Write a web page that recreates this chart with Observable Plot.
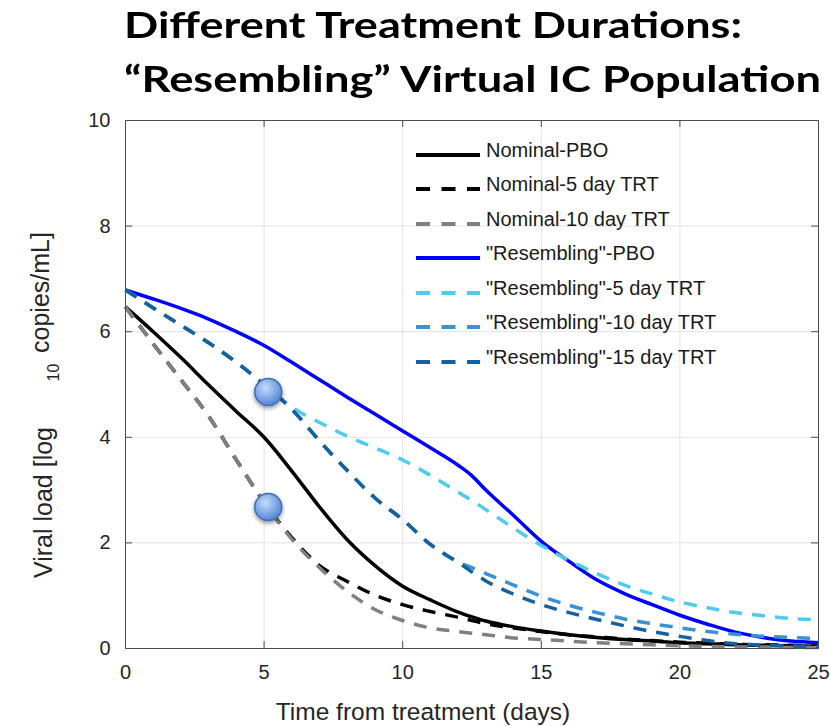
<!DOCTYPE html>
<html><head><meta charset="utf-8">
<script src="https://cdn.jsdelivr.net/npm/d3@7"></script>
<script src="https://cdn.jsdelivr.net/npm/@observablehq/plot@0.6"></script>
<style>
html,body{margin:0;padding:0;background:#fff;}
#wrap{position:relative;width:831px;height:726px;overflow:hidden;font-family:"Liberation Sans",Arial,sans-serif;}
.title{position:absolute;left:124px;font-family:Lato,"Open Sans",sans-serif;font-weight:700;font-size:37px;line-height:1;white-space:nowrap;color:#000;transform-origin:0 50%;}
#chart{position:absolute;left:0;top:105px;}
.legline{position:absolute;left:416px;width:64px;height:10px;}
.legtext{position:absolute;left:486px;font-size:20px;line-height:20px;white-space:nowrap;color:#1a1a1a;}
</style></head>
<body><div id="wrap">
<div class="title" id="t1">Different Treatment Durations:</div>
<div class="title" id="t2">“Resembling” Virtual IC Population</div>
<div id="chart"></div>
<div id="legend"></div>
</div>
<script>
// ---------- data ----------
const days = [0,1,2,3,4,5,6,7,8,9,10,11,12,12.5,13,14,15,16,17,18,19,20,21,22,23,24,25];
const nominalPBO = [6.47,6.00,5.51,4.99,4.49,4.00,3.36,2.68,2.06,1.57,1.18,0.92,0.69,0.60,0.52,0.41,0.33,0.26,0.21,0.17,0.14,0.11,0.09,0.07,0.06,0.05,0.04];
const nominal5day = [6.47,5.77,5.09,4.40,3.57,2.77,2.10,1.57,1.27,1.01,0.83,0.70,0.59,0.53,0.47,0.39,0.32,0.26,0.22,0.18,0.15,0.12,0.10,0.08,0.07,0.06,0.05];
const nominal10day = [6.47,5.77,5.09,4.40,3.57,2.77,2.07,1.53,1.08,0.74,0.53,0.39,0.32,0.29,0.26,0.20,0.17,0.14,0.11,0.09,0.07,0.05,0.04,0.03,0.03,0.02,0.02];
const resemblingPBO = [6.79,6.62,6.44,6.24,6.00,5.74,5.42,5.09,4.76,4.44,4.12,3.80,3.47,3.27,3.00,2.52,2.03,1.65,1.30,1.04,0.83,0.63,0.46,0.31,0.21,0.14,0.11];
const resembling5day = [6.79,6.45,6.12,5.79,5.42,5.00,4.57,4.28,4.02,3.80,3.57,3.28,2.96,2.80,2.63,2.28,1.95,1.67,1.42,1.20,1.03,0.88,0.77,0.68,0.62,0.57,0.54];
const resembling10day = [6.79,6.45,6.12,5.79,5.42,5.00,4.53,3.93,3.37,2.85,2.44,1.97,1.64,1.53,1.42,1.20,0.99,0.82,0.68,0.56,0.47,0.39,0.32,0.27,0.23,0.21,0.19];
const resembling15day = [6.79,6.45,6.12,5.79,5.42,5.00,4.53,3.93,3.37,2.85,2.44,1.97,1.63,1.45,1.28,1.03,0.83,0.68,0.55,0.43,0.32,0.23,0.15,0.09,0.06,0.05,0.04];
const seriesNames = ["Nominal-PBO","Nominal-5 day TRT","Nominal-10 day TRT","\"Resembling\"-PBO","\"Resembling\"-5 day TRT","\"Resembling\"-10 day TRT","\"Resembling\"-15 day TRT"];
const seriesValues = [nominalPBO,nominal5day,nominal10day,resemblingPBO,resembling5day,resembling10day,resembling15day];
const markerDays = [5.15, 5.15];
const markerValues = [4.86, 2.68];
const xTicks = [0,5,10,15,20,25];
const yTicks = [0,2,4,6,8,10];
const xLabel = "Time from treatment (days)";
const yLabelParts = ["Viral load [log", "10", "copies/mL]"];

// ---------- styles ----------
const seriesColors = ["#000000","#000000","#808080","#0000ff","#4fcbee","#3a91d4","#17609f"];
const seriesDash = [null,"13,10","13,10",null,"13,10","13,10","13,10"];

// ---------- build ----------
const rows = seriesNames.flatMap((name, i) => days.map((d, j) => ({series: name, day: d, value: seriesValues[i][j]})));
const markers = markerDays.map((d, i) => ({day: d, value: markerValues[i]}));

const W = 831, H = 621, mT = 15, mR = 13, mB = 78, mL = 125;
const innerW = W - mL - mR, innerH = H - mT - mB;
const tickLen = 7;
const labelStyle = {fill: "#262626", lineAnchor: "middle", textAnchor: "middle"};

const svg = Plot.plot({
  width: W, height: H,
  marginTop: mT, marginRight: mR, marginBottom: mB, marginLeft: mL,
  x: {domain: [0, 25]},
  y: {domain: [0, 10]},
  style: {fontFamily: "'Liberation Sans', Arial, sans-serif", background: "white", color: "#262626"},
  marks: [
    Plot.gridX(xTicks, {stroke: "#e3e3e3", strokeOpacity: 1}),
    Plot.gridY(yTicks, {stroke: "#e3e3e3", strokeOpacity: 1}),
    Plot.axisX(xTicks, {tickSize: 0, tickPadding: 16, fontSize: 20, label: null, fill: "#262626", tickFormat: d => String(d)}),
    Plot.axisY(yTicks, {tickSize: 0, tickPadding: 15, fontSize: 20, label: null, fill: "#262626", tickFormat: d => String(d)}),
    Plot.tickX(xTicks, {x: d => d, insetTop: innerH - tickLen, stroke: "#4d4d4d"}),
    Plot.tickX(xTicks, {x: d => d, insetBottom: innerH - tickLen, stroke: "#4d4d4d"}),
    Plot.tickY(yTicks, {y: d => d, insetRight: innerW - tickLen, stroke: "#4d4d4d"}),
    Plot.tickY(yTicks, {y: d => d, insetLeft: innerW - tickLen, stroke: "#4d4d4d"}),
    ...seriesNames.map((name, i) => Plot.line(rows.filter(r => r.series === name), {
      x: "day", y: "value", stroke: seriesColors[i], strokeWidth: 3.5,
      strokeDasharray: seriesDash[i], curve: "monotone-x", strokeLinecap: "butt"
    })),
    Plot.dot(markers, {x: "day", y: "value", r: 13.5, fill: "url(#dotGrad)", stroke: "#3f6fb8", strokeWidth: 1.5}),
    Plot.frame({stroke: "#4d4d4d"}),
    Plot.text([xLabel], {frameAnchor: "bottom", dx: -49, dy: 64, fontSize: 24.5, ...labelStyle}),
    Plot.text([yLabelParts[0]], {frameAnchor: "left", rotate: -90, dx: -82, dy: 118, fontSize: 25, ...labelStyle}),
    Plot.text([yLabelParts[1]], {frameAnchor: "left", rotate: -90, dx: -72, dy: -12, fontSize: 16, ...labelStyle}),
    Plot.text([yLabelParts[2]], {frameAnchor: "left", rotate: -90, dx: -85, dy: -92, fontSize: 25, ...labelStyle})
  ]
});

const s = d3.select(svg);
const defs = s.insert("defs", ":first-child");
const grad = defs.append("radialGradient").attr("id", "dotGrad").attr("cx", "40%").attr("cy", "35%").attr("r", "70%");
grad.append("stop").attr("offset", "0%").attr("stop-color", "#c6dcf8");
grad.append("stop").attr("offset", "55%").attr("stop-color", "#80a9e6");
grad.append("stop").attr("offset", "100%").attr("stop-color", "#4f80d0");
const filt = defs.append("filter").attr("id", "dotShadow").attr("x", "-60%").attr("y", "-60%").attr("width", "220%").attr("height", "220%");
filt.append("feDropShadow").attr("dx", 0).attr("dy", 2).attr("stdDeviation", 2).attr("flood-color", "#000").attr("flood-opacity", 0.45);
s.selectAll('g[aria-label="dot"]').attr("filter", "url(#dotShadow)");

document.getElementById("chart").appendChild(svg);

// ---------- legend ----------
const legTop = 155, legStep = 34.45;
const legend = document.getElementById("legend");
seriesNames.forEach((name, i) => {
  const y = legTop + legStep * i;
  const ls = d3.create("svg").attr("class", "legline").attr("width", 64).attr("height", 10).style("top", (y - 5) + "px");
  ls.append("line").attr("x1", 0).attr("x2", 64).attr("y1", 5).attr("y2", 5)
    .attr("stroke", seriesColors[i]).attr("stroke-width", 4)
    .attr("stroke-dasharray", seriesDash[i] ? "14,11.5" : null);
  legend.appendChild(ls.node());
  const t = document.createElement("div");
  t.className = "legtext";
  t.style.top = (y - 15) + "px";
  t.textContent = name;
  legend.appendChild(t);
});

// ---------- title placement ----------
function placeTitle(el, base, targetWidth) {
  const probe = document.createElement("span");
  probe.style.cssText = "display:inline-block;width:0;height:0;vertical-align:baseline;";
  el.appendChild(probe);
  const off = probe.getBoundingClientRect().top - el.getBoundingClientRect().top;
  el.removeChild(probe);
  el.style.top = Math.max(0, base - off) + "px";
  const w = el.getBoundingClientRect().width;
  el.style.transform = "scaleX(" + (targetWidth / w) + ")";
}
placeTitle(document.getElementById("t1"), 38, 618);
placeTitle(document.getElementById("t2"), 92, 697);
</script>
</body></html>
